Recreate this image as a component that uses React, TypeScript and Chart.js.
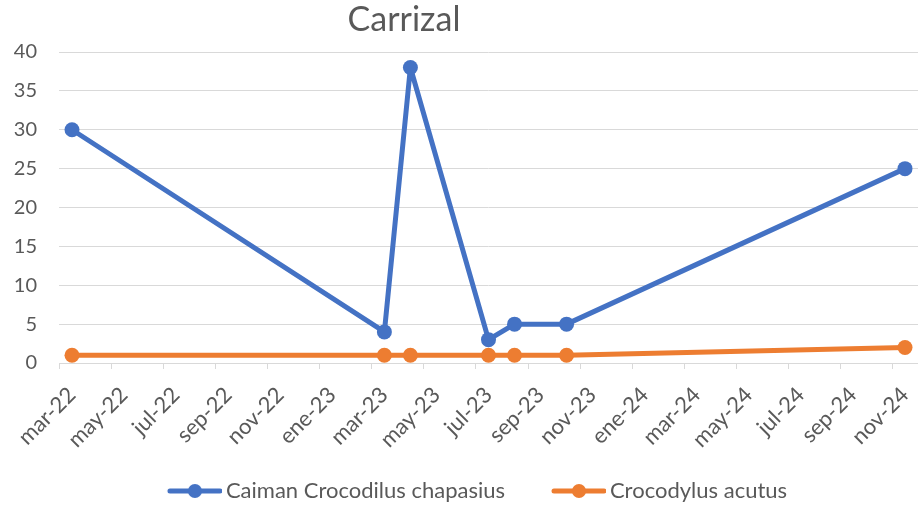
import React, { useEffect, useRef } from "react";
import { Chart, registerables } from "chart.js";

Chart.register(...registerables);

const chartTitle = "Carrizal";
const sampleDates = ["2022-03", "2023-03", "2023-04", "2023-07", "2023-08", "2023-10", "2024-11"];
const caimanValues = [30, 4, 38, 3, 5, 5, 25];
const acutusValues = [1, 1, 1, 1, 1, 1, 2];
const seriesNames = ["Caiman Crocodilus chapasius", "Crocodylus acutus"];
const seriesColors = ["#4472C4", "#ED7D31"];
const xTickLabels = [
  "mar-22", "may-22", "jul-22", "sep-22", "nov-22",
  "ene-23", "mar-23", "may-23", "jul-23", "sep-23", "nov-23",
  "ene-24", "mar-24", "may-24", "jul-24", "sep-24", "nov-24",
];
const yTicks = [0, 5, 10, 15, 20, 25, 30, 35, 40];

const START_YEAR = 2022;
const START_MONTH = 3;
const monthIndex = (d: string) => {
  const [y, m] = d.split("-").map(Number);
  return (y - START_YEAR) * 12 + (m - START_MONTH);
};

const FONT = "Lato";
const TEXT = "#595959";
const GRID = "#d9d9d9";
// legend marker geometry: box width 84, canvas 98 (centered), line drawn at 44..98 in canvas
const BOX_W = 84;
const CANVAS_W = 98;
const LINE_START = 44;

function makeMarker(color: string) {
  const c = document.createElement("canvas");
  c.width = CANVAS_W;
  c.height = 16;
  const ctx = c.getContext("2d")!;
  ctx.strokeStyle = color;
  ctx.lineWidth = 5;
  ctx.lineCap = "round";
  ctx.beginPath();
  ctx.moveTo(LINE_START + 2, 8);
  ctx.lineTo(LINE_START + 52, 8);
  ctx.stroke();
  ctx.fillStyle = color;
  ctx.beginPath();
  ctx.arc(LINE_START + 27, 8, 7, 0, Math.PI * 2);
  ctx.fill();
  return c;
}

export default function App() {
  const ref = useRef<HTMLCanvasElement | null>(null);
  useEffect(() => {
    if (!ref.current) return;
    const markers = seriesColors.map(makeMarker);
    const extrasPlugin = {
      id: "extras",
      afterDraw(chart: any) {
        const ctx = chart.ctx;
        const xs = chart.scales.x;
        const bottom = chart.chartArea.bottom;
        ctx.save();
        ctx.strokeStyle = GRID;
        ctx.lineWidth = 1;
        xs.ticks.forEach((t: any) => {
          const px = Math.round(xs.getPixelForValue(t.value)) + 0.5;
          ctx.beginPath();
          ctx.moveTo(px, bottom);
          ctx.lineTo(px, bottom + 6);
          ctx.stroke();
        });
        ctx.font = `34px ${FONT}`;
        ctx.fillStyle = TEXT;
        ctx.textAlign = "center";
        ctx.textBaseline = "middle";
        ctx.fillText(chartTitle, 404, 20);
        ctx.restore();
      },
    };
    const series = [caimanValues, acutusValues];
    const chart = new Chart(ref.current, {
      type: "line",
      data: {
        datasets: series.map((vals, i) => ({
          label: seriesNames[i],
          data: vals.map((v, j) => ({ x: monthIndex(sampleDates[j]), y: v })),
          borderColor: seriesColors[i],
          backgroundColor: seriesColors[i],
          borderWidth: 5,
          borderJoinStyle: "round",
          borderCapStyle: "round",
          pointRadius: 7.5,
          pointBorderWidth: 0,
          pointBackgroundColor: seriesColors[i],
          tension: 0,
          clip: false,
        })),
      },
      options: {
        responsive: false,
        animation: false,
        layout: { autoPadding: false, padding: { top: 52, left: 0, right: 0, bottom: 0 } },
        scales: {
          x: {
            type: "linear",
            min: -0.5,
            max: 32.5,
            afterBuildTicks(scale: any) {
              scale.ticks = xTickLabels.map((_, i) => ({ value: i * 2 - 0.5 }));
            },
            afterFit(scale: any) {
              scale.height = 107;
            },
            ticks: {
              autoSkip: false,
              minRotation: 45,
              maxRotation: 45,
              labelOffset: 13,
              padding: 0,
              color: TEXT,
              font: { family: FONT, size: 22 },
              callback: (_v: any, i: number) => xTickLabels[i],
            },
            grid: {
              drawOnChartArea: false,
              drawTicks: true,
              tickLength: 19,
              tickColor: "rgba(0,0,0,0)",
              color: GRID,
            },
            border: { display: true, color: GRID },
          },
          y: {
            min: 0,
            max: 40,
            afterBuildTicks(scale: any) {
              scale.ticks = yTicks.map((v) => ({ value: v }));
            },
            afterFit(scale: any) {
              scale.width = 59;
            },
            ticks: {
              padding: 22,
              color: TEXT,
              font: { family: FONT, size: 20 },
            },
            grid: { color: GRID, drawTicks: false },
            border: { display: false },
          },
        },
        plugins: {
          title: { display: false },
          tooltip: { enabled: false },
          legend: {
            display: true,
            position: "bottom",
            maxHeight: 35,
            labels: {
              usePointStyle: true,
              pointStyleWidth: BOX_W,
              padding: 10,
              color: TEXT,
              font: { family: FONT, size: 22 },
              generateLabels: (chart: any) =>
                chart.data.datasets.map((ds: any, i: number) => ({
                  text: ds.label,
                  fillStyle: seriesColors[i],
                  strokeStyle: seriesColors[i],
                  lineWidth: 0,
                  pointStyle: markers[i],
                  datasetIndex: i,
                  hidden: false,
                  fontColor: TEXT,
                })),
            },
          },
        },
      },
      plugins: [extrasPlugin],
    } as any);
    return () => chart.destroy();
  }, []);
  return (
    <div style={{ position: "absolute", left: 0, top: 0, width: 918, height: 505 }}>
      <canvas ref={ref} width={918} height={505} />
    </div>
  );
}
